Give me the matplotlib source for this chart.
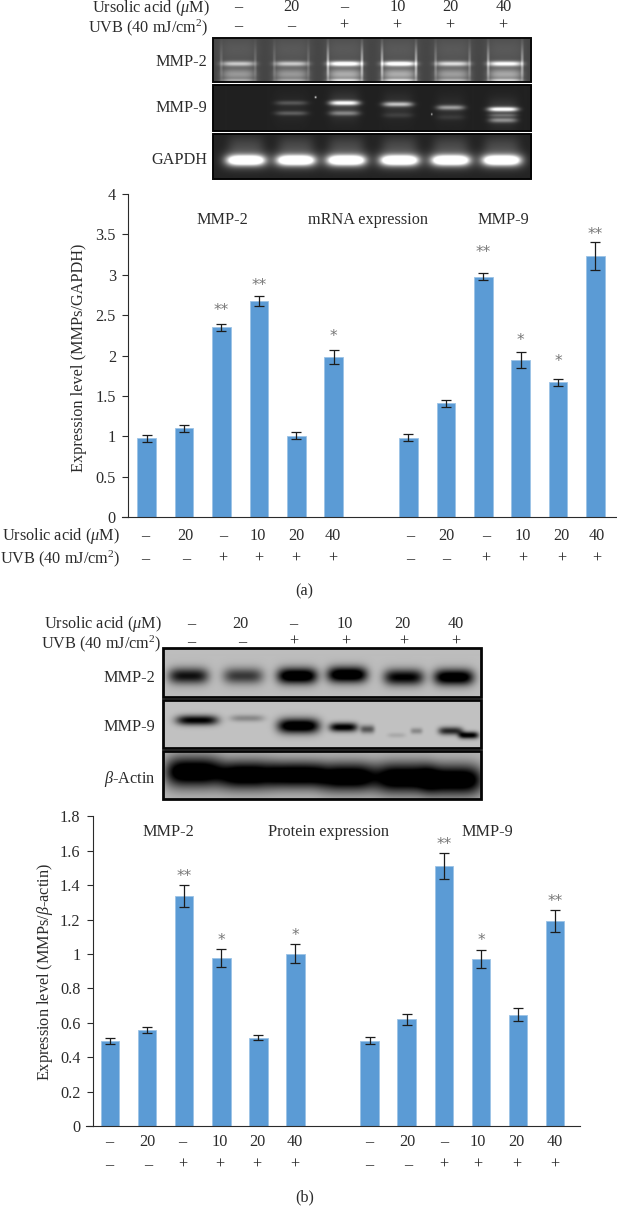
"""Ursolic acid MMP expression figure: gels, blots and bar charts."""

import matplotlib.pyplot as plt
import numpy as np

W, H = 617, 1206
INK = "#2b2b2b"
BAR = "#5b9bd5"
SERIF = "Liberation Serif"
FONT = 11.7

plt.rcParams["font.family"] = [SERIF, "DejaVu Serif"]
plt.rcParams["mathtext.fontset"] = "custom"
plt.rcParams["mathtext.rm"] = SERIF
plt.rcParams["mathtext.it"] = SERIF + ":italic"

# row labels
ursolic = ["–", "20", "–", "10", "20", "40"]
uvb = ["–", "–", "+", "+", "+", "+"]

# panel (a) mRNA
mrna_mmp2 = [0.976, 1.10, 2.352, 2.673, 1.01, 1.977]
mrna_mmp2_err = [0.045, 0.04, 0.043, 0.062, 0.04, 0.085]
mrna_mmp9 = [0.985, 1.41, 2.974, 1.94, 1.67, 3.234]
mrna_mmp9_err = [0.043, 0.043, 0.04, 0.1, 0.043, 0.173]
mrna_stars = [(2, "**", 2.554), (3, "**", 2.87), (5, "*", 2.235),
              (9, "**", 3.27), (10, "*", 2.19), (11, "*", 1.93), (12, "**", 3.5)]
mrna_ticks = [0, 0.5, 1, 1.5, 2, 2.5, 3, 3.5, 4]
mrna_ticklabels = ["0", "0.5", "1", "1.5", "2", "2.5", "3", "3.5", "4"]

# panel (b) protein
prot_mmp2 = [0.494, 0.558, 1.335, 0.975, 0.514, 1.0]
prot_mmp2_err = [0.018, 0.017, 0.064, 0.052, 0.017, 0.055]
prot_mmp9 = [0.496, 0.62, 1.512, 0.971, 0.647, 1.19]
prot_mmp9_err = [0.019, 0.033, 0.077, 0.051, 0.039, 0.064]
prot_stars = [(2, "**", 1.45), (3, "*", 1.081), (5, "*", 1.105),
              (9, "**", 1.634), (10, "*", 1.081), (12, "**", 1.304)]
prot_ticks = [0, 0.2, 0.4, 0.6, 0.8, 1, 1.2, 1.4, 1.6, 1.8]
prot_ticklabels = ["0", "0.2", "0.4", "0.6", "0.8", "1", "1.2", "1.4", "1.6", "1.8"]

gel_mmp2_amp = [0.6, 0.6, 1.0, 1.0, 0.7, 0.9]
gel_gapdh_amp = [1.0, 1.0, 1.0, 1.0, 1.0, 1.0]
wb_mmp2_amp = [0.72, 0.55, 1.0, 1.0, 0.8, 0.95]
# centre x, centre y, half width, half height, strength
gel_mmp9_bands = [
    (291, 102.7, 16, 2.2, 0.22), (291, 113, 16, 2.2, 0.25),
    (344, 102.7, 15, 2.4, 0.95), (344, 113, 15, 2.4, 0.38),
    (397.3, 104, 15, 2.4, 0.68), (397.3, 115, 15, 2.5, 0.1),
    (450, 107.3, 14, 2.4, 0.52), (450, 117, 14, 2.5, 0.08),
    (502.3, 109, 15, 2.2, 1.0), (502.3, 115, 14, 1.5, 0.22), (502.3, 120, 14, 2.4, 0.42),
    (315.2, 97, 0.9, 0.9, 1.0), (431.2, 114, 0.7, 1.0, 0.8),
]
wb_mmp9_bands = [
    (196.7, 720, 21, 5, 0.82), (246.7, 718, 17, 3.5, 0.24),
    (298, 725.7, 21, 7.5, 1.0), (343, 727, 14, 4.5, 0.85), (367, 729, 7, 4, 0.45),
    (396, 735, 9, 2.5, 0.1), (416, 730.7, 6, 3, 0.24),
    (450, 730.7, 12, 4, 0.65), (468, 735, 10, 3.5, 0.85),
]
wb_actin_bands = [
    (193, 772, 28, 15, 1.0), (246.7, 775, 28, 14, 1.0), (296.7, 775, 26, 13, 1.0),
    (346.7, 777, 28, 14, 1.0), (403, 778, 29, 15, 1.0), (453, 780, 29, 15, 1.0),
]


def px_axes(fig, x0, y0, x1, y1):
    """Axes placed by pixel box, y measured from the top."""
    return fig.add_axes([x0 / W, 1 - y1 / H, (x1 - x0) / W, (y1 - y0) / H])


def blob(xx, yy, cx, cy, wx, wy):
    """Soft flat topped band shape."""
    return np.exp(-np.abs((xx - cx) / wx) ** 4 - np.abs((yy - cy) / wy) ** 2)


def grid(box):
    x0, y0, x1, y1 = box
    return np.meshgrid(np.arange(x0, x1, 0.5), np.arange(y0, y1, 0.5))


def show(ov, img, box, border, lw):
    x0, y0, x1, y1 = box
    ov.imshow(np.clip(img, 0, 1), cmap="gray", vmin=0, vmax=1, aspect="auto",
              extent=(x0, x1, y1, y0), interpolation="bilinear", zorder=1)
    ov.add_patch(plt.Rectangle((x0, y0), x1 - x0, y1 - y0, fill=False,
                               ec=border, lw=lw, zorder=2))


def gel_mmp2(ov, box, lanes):
    xx, yy = grid(box)
    img = np.full(xx.shape, 0.27)
    for cx, amp in zip(lanes, gel_mmp2_amp):
        img += 0.08 * blob(xx, yy, cx, 50, 20, 16)
        img += (0.2 + 0.2 * amp) * blob(xx, yy, cx, 74, 17, 6)
        img += 0.8 * amp * blob(xx, yy, cx, 63.5, 17, 2.5)
        img += 0.5 * amp * blob(xx, yy, cx, 80, 17, 1.6)
        for side in (-1, 1):
            img += 0.6 * (amp - 0.4) * blob(xx, yy, cx + side * 17, 64, 1.4, 18)
    show(ov, img, box, "#0a0a0a", 1.4)


def gel_bands(ov, box, bands):
    xx, yy = grid(box)
    img = np.full(xx.shape, 0.13)
    for cx, cy, wx, wy, amp in bands:
        img += 0.85 * amp * blob(xx, yy, cx, cy, wx, wy)
        if wx > 2:
            img += 0.1 * amp * blob(xx, yy, cx, cy, wx, wy * 5)
    show(ov, img, box, "#050505", 1.4)


def gel_gapdh(ov, box, lanes):
    xx, yy = grid(box)
    img = np.full(xx.shape, 0.14)
    for cx, amp in zip(lanes, gel_gapdh_amp):
        img += 0.14 * blob(xx, yy, cx, 146, 18, 10)
        img += 0.45 * blob(xx, yy, cx, 160, 23, 8)
        img += 1.0 * amp * blob(xx, yy, cx, 160, 18, 4.6)
    show(ov, img, box, "#050505", 1.4)


def wb_bands(ov, box, bands, base):
    xx, yy = grid(box)
    img = np.full(xx.shape, base)
    for cx, cy, wx, wy, amp in bands:
        img -= 0.95 * amp * blob(xx, yy, cx, cy, wx, wy)
    show(ov, img, box, "#050505", 2.0)


def bars(fig, box, xlim, ymax, ticks, ticklabels, mmp2, mmp2_err, mmp9, mmp9_err, stars):
    """Bar panel: MMP-2 at 0-5, MMP-9 at 7-12."""
    ax = px_axes(fig, *box)
    ax.patch.set_alpha(0)
    xs = list(range(6)) + list(range(7, 13))
    ax.bar(xs, mmp2 + mmp9, width=0.5, color=BAR, edgecolor="#9cc3e6", linewidth=0.6)
    ax.errorbar(xs, mmp2 + mmp9, yerr=mmp2_err + mmp9_err, fmt="none", ecolor="#1c1c1c",
                elinewidth=0.9, capsize=3.4, capthick=0.9)
    for x, mark, y in stars:
        ax.text(x, y, mark, ha="center", va="center", fontsize=11, color="#777777",
                fontfamily=["DejaVu Sans"])
    ax.set_xlim(*xlim)
    ax.set_ylim(0, ymax)
    ax.set_xticks([])
    ax.set_yticks(ticks)
    ax.set_yticklabels(ticklabels, fontsize=FONT, color=INK)
    ax.tick_params(axis="y", length=4.4, width=0.8, color=INK, pad=4.5)
    for side in ("top", "right"):
        ax.spines[side].set_visible(False)
    for side in ("left", "bottom"):
        ax.spines[side].set_linewidth(0.8)
        ax.spines[side].set_color(INK)
    return ax


def row(ov, xs, labels, y):
    for x, text in zip(xs, labels):
        ov.text(x, y, text, ha="center", va="center", fontsize=FONT, color=INK, zorder=3)


def label(ov, x, y, s, ha="center", **kw):
    ov.text(x, y, s, ha=ha, va="center", fontsize=FONT, color=INK, zorder=3, **kw)


def main():
    fig = plt.figure(figsize=(W / 100, H / 100), dpi=100)
    ov = fig.add_axes([0, 0, 1, 1])
    ov.axis("off")

    ua_text = r"Ursolic acid ($\mu$M)"
    uvb_text = r"UVB (40 mJ/cm$^{2}$)"

    # panel (a) gels
    label(ov, 209.5, 8.5, ua_text, ha="right")
    label(ov, 208, 28, uvb_text, ha="right")
    row(ov, [238.5, 291.5, 343.9, 397.7, 450, 503.8], ursolic, 7)
    row(ov, [238.5, 291.5, 343.9, 397, 450, 503], uvb, 26)
    gel_mmp2(ov, (213, 38.3, 531.3, 81.7), [238, 291, 344.5, 398.5, 452, 504.5])
    gel_bands(ov, (213, 85, 531.3, 130.7), gel_mmp9_bands)
    gel_gapdh(ov, (213, 134, 531.3, 178.7), [245.6, 295.5, 345.8, 398.9, 450, 501])
    label(ov, 207, 62, "MMP-2", ha="right")
    label(ov, 207, 108, "MMP-9", ha="right")
    label(ov, 207.5, 160, "GAPDH", ha="right")

    # panel (a) bars
    bars(fig, (128.3, 193.7, 616, 517.3), (-0.492, 12.55), 4,
         mrna_ticks, mrna_ticklabels, mrna_mmp2, mrna_mmp2_err, mrna_mmp9, mrna_mmp9_err, mrna_stars)
    ov.plot([122, 128.3], [517.3, 517.3], color=INK, lw=0.8)
    label(ov, 79, 358, "Expression level (MMPs/GAPDH)", rotation=90)
    label(ov, 222, 220, "MMP-2")
    label(ov, 368, 220, "mRNA expression")
    label(ov, 503, 220, "MMP-9")
    label(ov, 119.5, 535.7, ua_text, ha="right")
    label(ov, 120.5, 559, uvb_text, ha="right")
    row(ov, [145, 185.7, 223, 258, 296, 333, 410, 446.7, 486, 523, 561.7, 596.7], ursolic + ursolic, 535.7)
    row(ov, [145, 186, 222.3, 258.3, 295.7, 333, 410, 446, 485.3, 522.7, 561.7, 596.3], uvb + uvb, 559)
    label(ov, 304, 591.7, "(a)")

    # panel (b) blots
    label(ov, 161.7, 624, ua_text, ha="right")
    label(ov, 161, 644, uvb_text, ha="right")
    row(ov, [191, 240, 293.3, 345, 402.3, 455.7], ursolic, 624)
    row(ov, [191, 241.7, 293.3, 346, 403.3, 455.7], uvb, 641.7)
    mmp2_bands = [(cx, cy, 20, 8, a) for cx, cy, a in zip(
        [188, 242.7, 296.7, 346.7, 403.3, 453.3],
        [675.7, 675.7, 675.7, 674.5, 677, 677], wb_mmp2_amp)]
    wb_bands(ov, (162.7, 648.3, 480.7, 696.7), mmp2_bands, 0.74)
    wb_bands(ov, (162.7, 700, 480.7, 747.7), wb_mmp9_bands, 0.76)
    wb_bands(ov, (162.7, 751.3, 480.7, 799.3), wb_actin_bands, 0.72)
    label(ov, 155.7, 678, "MMP-2", ha="right")
    label(ov, 155.7, 727.3, "MMP-9", ha="right")
    label(ov, 155.7, 779, r"$\beta$-Actin", ha="right")

    # panel (b) bars
    bars(fig, (92.7, 816.3, 580, 1126), (-0.466, 12.67), 1.8,
         prot_ticks, prot_ticklabels, prot_mmp2, prot_mmp2_err, prot_mmp9, prot_mmp9_err, prot_stars)
    ov.plot([86, 92.7], [1126, 1126], color=INK, lw=0.8)
    label(ov, 45, 972, r"Expression level (MMPs/$\beta$-actin)", rotation=90)
    label(ov, 168, 832, "MMP-2")
    label(ov, 329, 832, "Protein expression")
    label(ov, 487, 832, "MMP-9")
    row(ov, [109.3, 147.7, 182.3, 220, 257.7, 294.7, 369.3, 407.7, 444, 478, 516.7, 555], ursolic + ursolic, 1142)
    row(ov, [109.3, 148.3, 182.3, 219.3, 257, 294.3, 369.3, 407.7, 443.7, 477.7, 516.7, 554.7], uvb + uvb, 1165)
    label(ov, 304.7, 1197, "(b)")

    ov.set_xlim(0, W)
    ov.set_ylim(H, 0)
    fig.savefig("out.png", dpi=100)


main()
